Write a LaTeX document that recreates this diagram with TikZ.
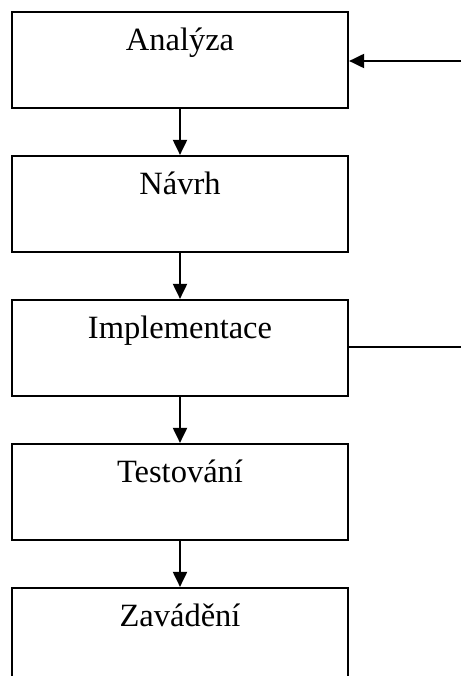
\documentclass[tikz,border=0pt]{standalone}
\usepackage{fontspec}
\setmainfont{Liberation Serif}
\usetikzlibrary{arrows.meta}
\begin{document}
\begin{tikzpicture}[x=1pt,y=-1pt,
  stagebox/.style={draw,line width=2.2pt,rectangle,minimum width=336pt,minimum height=96pt,inner sep=0pt},
  stagelabel/.style={anchor=base,inner sep=0pt,font=\fontsize{32.5}{38}\selectfont},
  flow/.style={line width=2pt,-{Triangle[length=15pt,width=14pt]}},
  plain/.style={line width=2pt}]
\useasboundingbox (0,0) rectangle (461,676);
\clip (0,0) rectangle (461,676);
% the five phases, stacked top to bottom
\node[stagebox] (s1) at (180,60)  {};
\node[stagebox] (s2) at (180,204) {};
\node[stagebox] (s3) at (180,348) {};
\node[stagebox] (s4) at (180,492) {};
\node[stagebox] (s5) at (180,636) {};
\node[stagelabel] (t1) at ([yshift=-40pt]s1.north) {Analýza};
\node[stagelabel] (t2) at ([yshift=-40pt]s2.north) {Návrh};
\node[stagelabel] (t3) at ([yshift=-40pt]s3.north) {Implementace};
\node[stagelabel] (t4) at ([yshift=-40pt]s4.north) {Testování};
\node[stagelabel] (t5) at ([yshift=-40pt]s5.north) {Zavádění};
% downward flow between phases
\draw[flow] (s1.south) -- (s2.north);
\draw[flow] (s2.south) -- (s3.north);
\draw[flow] (s3.south) -- (s4.north);
\draw[flow] (s4.south) -- (s5.north);
% feedback from implementation back to analysis
\coordinate (fbin) at (461,61);
\coordinate (fbout) at (461,347);
\draw[flow] (fbin) -- (s1.east |- fbin);
\draw[plain] (s3.east |- fbout) -- (fbout);
\end{tikzpicture}
\end{document}
